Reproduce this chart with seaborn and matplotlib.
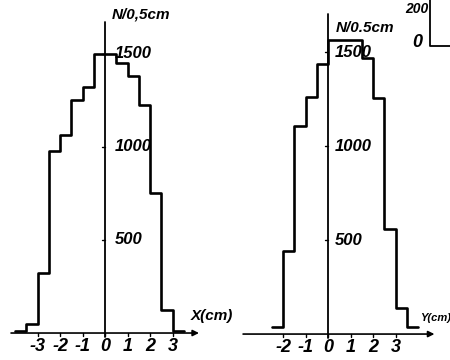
import matplotlib
matplotlib.use("Agg")
import matplotlib.pyplot as plt
import seaborn as sns
import numpy as np
import pandas as pd

# bin edges (cm) and counts per 0.5 cm
x_edges = [-4.0, -3.5, -3.0, -2.5, -2.0, -1.5, -1.0, -0.5, 0.0, 0.5, 1.0, 1.5, 2.0, 2.5, 3.0, 3.5]
x_counts = [10, 50, 320, 980, 1065, 1250, 1320, 1500, 1500, 1450, 1380, 1225, 750, 125, 10]
y_edges = [-2.5, -2.0, -1.5, -1.0, -0.5, 0.0, 0.5, 1.0, 1.5, 2.0, 2.5, 3.0, 3.5, 4.0]
y_counts = [35, 440, 1105, 1260, 1435, 1565, 1565, 1565, 1470, 1255, 560, 140, 35]

x_ticks = [-3, -2, -1, 0, 1, 2, 3]
x_tick_labels = ["-3", "-2", "-1", "0", "1", "2", "3"]
y_ticks = [-2, -1, 0, 1, 2, 3]
y_tick_labels = ["-2", "-1", "0", "1", "2", "3"]
n_ticks = [500, 1000, 1500]
n_tick_labels = ["500", "1000", "1500"]

sns.set_theme(style="white")
plt.rcParams["font.family"] = ["Liberation Sans", "DejaVu Sans"]
hand = dict(fontstyle="italic", fontweight="bold", color="black")

fig = plt.figure(figsize=(4.5, 3.6), dpi=100)
ax1 = fig.add_axes([0, 0, 0.5, 1])
ax2 = fig.add_axes([0.5, 0, 0.5, 1])


def draw_panel(ax, edges, counts, ticks, tick_labels, xlim, ylim, ytop, xaxis, ylab_dx):
    e = np.array(edges)
    df = pd.DataFrame({"pos": (e[:-1] + e[1:]) / 2, "n": counts})
    sns.histplot(data=df, x="pos", weights="n", bins=list(edges), element="step",
                 fill=False, color="black", linewidth=1.9, ax=ax)
    ax.set_xlim(*xlim)
    ax.set_ylim(*ylim)
    ax.axis("off")
    # axes drawn by hand, crossing at zero
    ax.plot([0, 0], [-20, ytop], color="black", lw=1.3)
    ax.annotate("", xy=(xaxis[1], 0), xytext=(xaxis[0], 0),
                arrowprops=dict(arrowstyle="-|>", color="black", lw=1.2,
                                mutation_scale=9))
    for t, lab in zip(ticks, tick_labels):
        ax.plot([t, t], [0, -18], color="black", lw=1.0)
        ax.text(t, -70, lab, ha="center", va="center", fontsize=13, **hand)
    for t, lab in zip(n_ticks, n_tick_labels):
        ax.plot([-0.12, 0], [t, t], color="black", lw=1.0)
        ax.text(ylab_dx, t, lab, ha="left", va="center", fontsize=12, **hand)


draw_panel(ax1, x_edges, x_counts, x_ticks, x_tick_labels,
           xlim=(-4.667, 5.333), ylim=(-145, 1790), ytop=1670,
           xaxis=(-4.3, 4.3), ylab_dx=0.45)
ax1.text(0.3, 1710, "N/0,5cm", ha="left", va="center", fontsize=11, **hand)
ax1.text(3.8, 90, "X(cm)", ha="left", va="center", fontsize=11, **hand)

draw_panel(ax2, y_edges, y_counts, y_ticks, y_tick_labels,
           xlim=(-4.58, 5.42), ylim=(-138, 1777), ytop=1700,
           xaxis=(-3.9, 4.85), ylab_dx=0.3)
ax2.text(0.35, 1630, "N/0.5cm", ha="left", va="center", fontsize=11, **hand)
ax2.text(4.1, 85, "Y(cm)", ha="left", va="center", fontsize=8, **hand)

# fragment of the neighbouring figure at the top right
ax2.plot([4.53, 4.53, 5.5], [1800, 1532, 1532], color="black", lw=1.3, clip_on=False)
ax2.text(4.45, 1730, "200", ha="right", va="center", fontsize=10, **hand)
ax2.text(3.95, 1550, "0", ha="center", va="center", fontsize=13, **hand)

fig.savefig("out.png", dpi=100, facecolor="white")
plt.close(fig)
